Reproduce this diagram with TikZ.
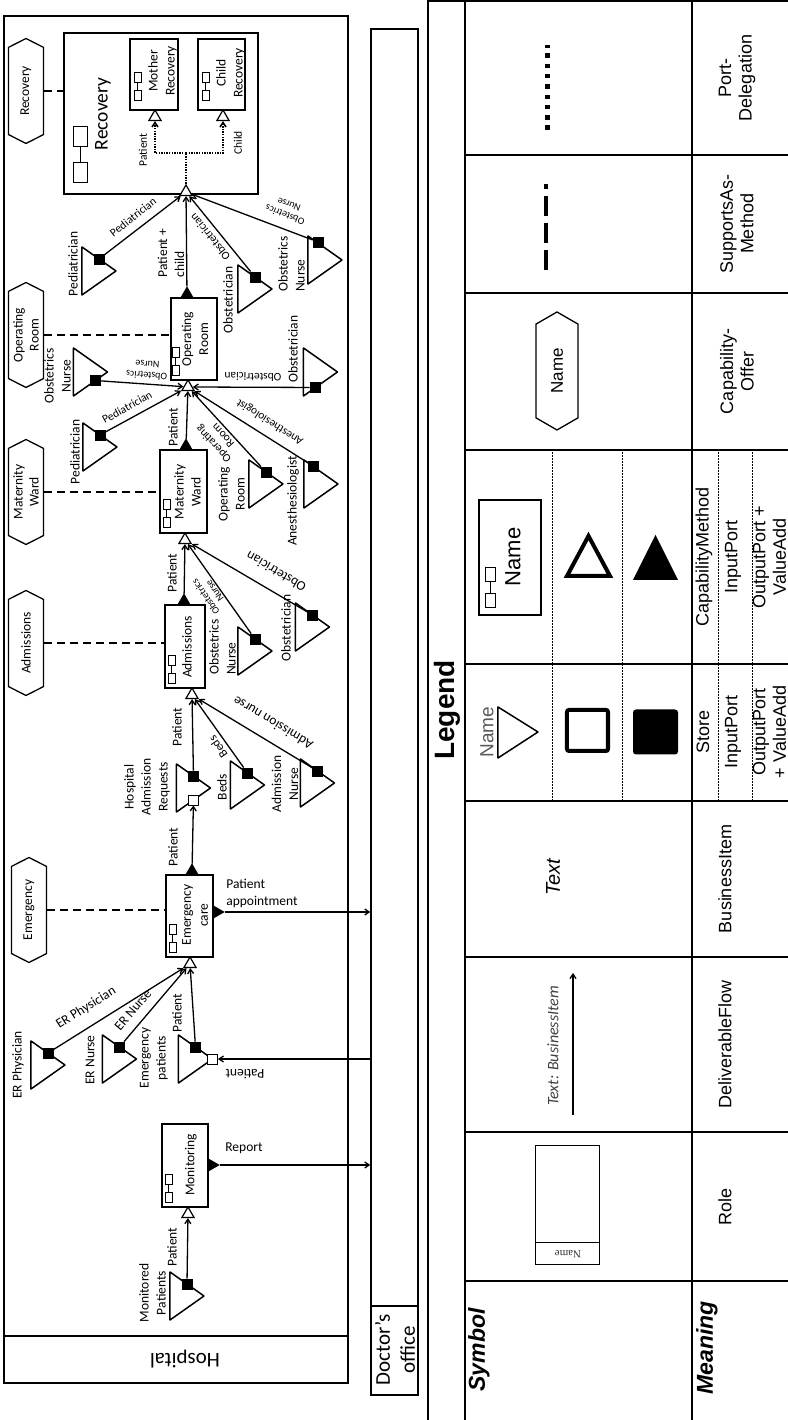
\documentclass[tikz,border=0pt]{standalone}
\usepackage{fontspec}
\setmainfont{Carlito}
\newfontfamily\legendfont{Liberation Sans}
\newfontfamily\rolefont{Liberation Serif}
\usetikzlibrary{arrows.meta,shapes.geometric,shapes.symbols}

\tikzset{
  txt/.style={font=\fontsize{13.5}{17}\selectfont, align=center, inner sep=0pt},
  lab/.style={font=\fontsize{11.5}{13}\selectfont, align=center, inner sep=0pt},
  smalllab/.style={font=\fontsize{10}{11}\selectfont, align=center, inner sep=0pt},
  leg/.style={font=\legendfont\fontsize{18}{20.5}\selectfont, align=center, inner sep=0pt},
  method/.style={draw, line width=1.6pt, inner sep=0pt},
  offer/.style={draw, line width=1.3pt, signal, signal to=east and west,
    signal pointer angle=126, minimum width=105pt, minimum height=35pt,
    inner sep=0pt, align=center, font=\fontsize{13.5}{16}\selectfont},
  inport/.style={draw, fill=white, line width=1.2pt, regular polygon,
    regular polygon sides=3, shape border rotate=-90, minimum size=14pt, inner sep=0pt},
  outport/.style={inport, fill=black},
  downport/.style={outport, shape border rotate=180},
  sqout/.style={draw, fill=black, line width=0.8pt, minimum size=10pt, inner sep=0pt},
  sqin/.style={sqout, fill=white},
  flow/.style={line width=1.3pt, -{Straight Barb[length=4.5pt,width=6pt]}},
  deleg/.style={line width=1.6pt, dash pattern=on 1.4pt off 1.2pt},
  supports/.style={line width=1.5pt, dash pattern=on 8pt off 5pt},
  store/.pic={\draw[line width=1.5pt, line join=round] (-24,17) -- (24,17) -- (0,-17) -- cycle;},
  methodicon/.pic={\draw[line width=0.9pt] (0,0) rectangle (10,7) (18,0) rectangle (28,7) (10,3.5) -- (18,3.5);}
}

\begin{document}
\begin{tikzpicture}[x=1pt, y=1pt, rotate=90, transform shape]
    \useasboundingbox (0,0) rectangle (1420,787);

    % pools
    \draw[line width=1.3pt] (37,439) rectangle (1404,783);
    \draw[line width=1.3pt] (84,439) -- (84,783);
    \node[font=\fontsize{21}{24}\selectfont, rotate=90] (hospital) at (61,602) {Hospital};
    \node[draw, line width=1.3pt, minimum width=1366pt, minimum height=47pt, inner sep=0pt] (office) at (708,392.5) {};
    \draw[line width=1.3pt] (114,369) -- (114,416);
    \node[font=\fontsize{21}{25}\selectfont, align=center, inner sep=0pt] (officeLab) at (70,392) {Doctor’s\\office};

    % capability offers
    \node[offer] (emOffer) at (510,758) {Emergency};
    \node[offer] (admOffer) at (777,761) {Admissions};
    \node[offer] (mwOffer) at (928,761) {Maternity\\Ward};
    \node[offer] (orOffer) at (1085,761) {Operating\\Room};
    \node[offer] (recOffer) at (1329,761) {Recovery};

    % capability methods
    \node[method, minimum width=83pt, minimum height=46pt] (monBox) at (254.5,602) {};
    \node[method, minimum width=82pt, minimum height=47pt] (emBox) at (504,597.5) {};
    \node[method, minimum width=83pt, minimum height=40pt] (admBox) at (773.5,602) {};
    \node[method, minimum width=83pt, minimum height=47pt] (mwBox) at (928.5,603.5) {};
    \node[method, minimum width=82pt, minimum height=46pt] (orBox) at (1081,593) {};
    \node[method, minimum width=161pt, minimum height=194pt] (recBox) at (1306.5,626) {};
    \node[method, minimum width=71pt, minimum height=48pt] (motherBox) at (1345.5,633) {};
    \node[method, minimum width=71pt, minimum height=47pt] (childBox) at (1345.5,565.5) {};

    \node[txt] (monTxt) at (255,596) {Monitoring};
    \node[txt] (emTxt) at (505,592) {Emergency\\care};
    \node[txt] (admTxt) at (773,600) {Admissions};
    \node[txt] (mwTxt) at (928,599.5) {Maternity\\Ward};
    \node[txt] (orTxt) at (1081,592) {Operating\\Room};
    \node[txt] (motherTxt) at (1349,624.5) {Mother\\Recovery};
    \node[txt] (childTxt) at (1347,556.5) {Child\\Recovery};
    \node[txt, font=\fontsize{19.5}{22}\selectfont] (recTxt) at (1306,684) {Recovery};

    \foreach \x/\y in {218/615, 468/611, 737/612, 893/617, 1045/608, 1320/646, 1320/578}
        \pic at (\x,\y) {methodicon};
    \pic[scale=2] at (1238,700) {methodicon};

    \foreach \o/\m in {emOffer/emBox, admOffer/admBox, mwOffer/mwBox, orOffer/orBox, recOffer/recBox}
        \draw[supports] (\o.south) -- (\o.south |- \m.north);

    % ports
    \node[inport] (monIn) at (206,599) {};
    \node[inport] (emIn) at (456,597) {};
    \node[inport] (admIn) at (725,595) {};
    \node[inport] (mwIn) at (880,602) {};
    \node[inport] (orIn) at (1033,599) {};
    \node[inport] (recIn) at (1228,601) {};
    \node[inport] (motherIn) at (1303,632) {};
    \node[inport] (childIn) at (1303,564) {};
    \node[outport] (emOut) at (548.5,595) {};
    \node[outport] (admOut) at (818.5,603) {};
    \node[outport] (mwOut) at (973.5,601) {};
    \node[outport] (orOut) at (1125.5,600) {};
    \node[downport] (emAppt) at (508,570.5) {};
    \node[downport] (monRep) at (255,575.5) {};

    % stores
    \foreach \x/\y in {124/600, 355/739, 361/667.5, 361/591.5, 632/593.5, 635/539.5, 637/469.5,
                       769/532, 793/474.5, 936/521, 936/466, 973/687, 1048/696.5, 1048/466.5,
                       1149/688, 1131/532, 1160/462}
        \pic at (\x,\y) {store};

    \node[txt] (monPatLab) at (127,634.5) {Monitored\\Patients};
    \node[txt] (erPhysLab) at (355,769) {ER Physician};
    \node[txt] (erNurseLab) at (360,697) {ER Nurse};
    \node[txt] (emPatLab) at (362,633) {Emergency\\patients};
    \node[txt] (harLab) at (633,640) {Hospital\\Admission\\Requests};
    \node[txt] (bedsLab) at (633,565) {Beds};
    \node[txt] (admNurseLab) at (636,502) {Admission\\Nurse};
    \node[txt, align=left, anchor=west] (admObsNurseLab) at (745,564.5) {Obstetrics\\Nurse};
    \node[txt] (admObstLab) at (792,501) {Obstetrician};
    \node[txt] (orRoomLab) at (926,555.5) {Operating\\Room};
    \node[txt] (anesLab) at (919,494) {Anesthesiologist};
    \node[txt] (pedOrLab) at (968,712) {Pediatrician};
    \node[txt] (orNurseLab) at (1044,729.5) {Obstetrics\\Nurse};
    \node[txt] (orObstLab) at (1071,494) {Obstetrician};
    \node[txt] (pedRecLab) at (1156,714) {Pediatrician};
    \node[txt] (recObstLab) at (1120,559) {Obstetrician};
    \node[txt, align=left, anchor=west] (recNurseLab) at (1128,495.5) {Obstetrics\\Nurse};

    \node[sqout] (monPatOut) at (136,600) {};
    \node[sqout] (erPhysOut) at (367,739) {};
    \node[sqout] (erNurseOut) at (373,667.5) {};
    \node[sqout] (emPatOut) at (373,591.5) {};
    \node[sqin] (emPatIn) at (361,574.5) {};
    \node[sqout] (harOut) at (644,593.5) {};
    \node[sqin] (harIn) at (620,593.5) {};
    \node[sqout] (bedsOut) at (647,539.5) {};
    \node[sqout] (admNurseOut) at (649,469.5) {};
    \node[sqout] (admObsNurseOut) at (781,532) {};
    \node[sqout] (admObstOut) at (805,474.5) {};
    \node[sqout] (orRoomOut) at (948,521) {};
    \node[sqout] (anesOut) at (954,474) {};
    \node[sqout] (pedOrOut) at (985,687) {};
    \node[sqout] (orNurseOut) at (1039.5,692) {};
    \node[sqout] (orObstOut) at (1032.5,472) {};
    \node[sqout] (pedRecOut) at (1161,688) {};
    \node[sqout] (recObstOut) at (1143,532) {};
    \node[sqout] (recNurseOut) at (1178,469) {};

    % deliverable flows
    \draw[flow] (monPatOut) -- (monIn);
    \draw[flow] (monRep) -- (monRep |- office.north);
    \draw[flow] (erPhysOut) -- (emIn);
    \draw[flow] (erNurseOut) -- (emIn);
    \draw[flow] (emPatOut) -- (emIn);
    \draw[flow] (emPatIn |- office.north) -- (emPatIn);
    \draw[flow] (emAppt) -- (emAppt |- office.north);
    \draw[flow] (emOut) -- (harIn);
    \draw[flow] (harOut) -- (admIn);
    \draw[flow] (bedsOut) -- (admIn);
    \draw[flow] (admNurseOut) -- (admIn);
    \draw[flow] (admOut) -- (mwIn);
    \draw[flow] (admObsNurseOut) -- (mwIn);
    \draw[flow] (admObstOut) -- (mwIn);
    \draw[flow] (mwOut) -- (orIn);
    \draw[flow] (orRoomOut) -- (orIn);
    \draw[flow] (anesOut) -- (orIn);
    \draw[flow] (pedOrOut) -- (orIn);
    \draw[flow] (orNurseOut) -- (orIn);
    \draw[flow] (orObstOut) -- (orIn);
    \draw[flow] (orOut) -- (recIn);
    \draw[flow] (pedRecOut) -- (recIn);
    \draw[flow] (recObstOut) -- (recIn);
    \draw[flow] (recNurseOut) -- (recIn);

    \coordinate (fork) at (1267,601);
    \draw[deleg] (recIn) -- (fork);
    \draw[deleg, -{Straight Barb[length=4.5pt,width=6pt]}] (fork) -- (1267,632) -- (motherIn);
    \draw[deleg, -{Straight Barb[length=4.5pt,width=6pt]}] (fork) -- (1267,564) -- (childIn);

    \node[txt] (lMonPat) at (173,615) {Patient};
    \node[txt, rotate=-90] (lReport) at (272,543) {Report};
    \node[txt, rotate=-58] (lErPhys) at (412,701) {ER Physician};
    \node[txt, rotate=-40] (lErNurse) at (410,654) {ER Nurse};
    \node[txt] (lEmPat) at (407,610) {Patient};
    \node[txt, rotate=90] (lOfficePat) at (346,542) {Patient};
    \node[txt, rotate=-90, align=left] (lAppt) at (527,525) {Patient\\appointment};
    \node[txt] (lEmHar) at (573,614) {Patient};
    \node[txt] (lHarAdm) at (693,610) {Patient};
    \node[lab, font=\fontsize{12}{13}\selectfont, rotate=35] (lBeds) at (673,569) {Beds};
    \node[txt, rotate=59] (lAdmNurse) at (697,514) {Admission nurse};
    \node[txt] (lAdmMw) at (847,615) {Patient};
    \node[smalllab, rotate=35] (lAdmObsNurse) at (826,577) {Obstetrics\\Nurse};
    \node[txt, rotate=59.5] (lAdmObst) at (848,511) {Obstetrician};
    \node[txt] (lMwOr) at (993,614) {Patient};
    \node[lab, rotate=42.5] (lOrRoom) at (980,569) {Operating\\Room};
    \node[lab, rotate=57.7] (lAnes) at (998,517) {Anesthesiologist};
    \node[lab, rotate=-61] (lPedOr) at (1013,660) {Pediatrician};
    \node[smalllab, rotate=86] (lOrNurse) at (1050,640) {Obstetrics\\Nurse};
    \node[lab, rotate=89.5] (lOrObst) at (1043,534) {Obstetrician};
    \node[txt, align=left] (lOrRec) at (1167,616) {Patient +\\child};
    \node[lab, rotate=-52] (lPedRec) at (1203,654) {Pediatrician};
    \node[lab, rotate=39] (lRecObst) at (1183,577) {Obstetrician};
    \node[smalllab, rotate=69] (lRecNurse) at (1210,500) {Obstetrics\\Nurse};
    \node[lab] (lDelPat) at (1270,644) {Patient};
    \node[lab] (lDelChild) at (1277,549) {Child};

    % legend
    \draw[line width=1.3pt] (-5,359) -- (1419,359) -- (1419,-5);
    \draw[line width=1.3pt] (-5,322) -- (1419,322);
    \draw[line width=1.3pt] (-5,95) -- (1419,95);
    \foreach \x in {139,288,463,619,756,970,1127,1265}
        \draw[line width=1.3pt] (\x,-5) -- (\x,322);
    \foreach \y in {235,165,69,35}
        \draw[line width=0.7pt, dash pattern=on 1.5pt off 1.5pt] (619,\y) -- (756,\y) (756,\y) -- (970,\y);

    \node[font=\legendfont\bfseries\fontsize{28}{30}\selectfont] (legTitle) at (710,340) {Legend};
    \node[anchor=west, font=\legendfont\bfseries\itshape\fontsize{23}{26}\selectfont] (legSymbol) at (25,308) {Symbol};
    \node[anchor=west, font=\legendfont\bfseries\itshape\fontsize{23}{26}\selectfont] (legMeaning) at (22,80) {Meaning};

    \draw[line width=1pt] (155,187) rectangle (274,251);
    \draw[line width=1pt] (177,187) -- (177,251);
    \node[font=\rolefont\fontsize{11}{12}\selectfont, rotate=90, text=black!80] (legRoleName) at (166,219) {Name};

    \coordinate (legFlowA) at (305,214);
    \coordinate (legFlowB) at (447,214);
    \draw[flow] (legFlowA) -- (legFlowB);
    \node[font=\itshape\fontsize{16}{18}\selectfont, text=black!75] (legFlowLab) at (374,234) {Text: BusinessItem};

    \node[font=\legendfont\itshape\fontsize{20}{22}\selectfont] (legText) at (543,234) {Text};

    \node[font=\legendfont\fontsize{19}{20}\selectfont, text=black!65] (legStoreName) at (688,300) {Name};
    \draw[line width=1.5pt, line join=round] (662,289) -- (713,289) -- (688,249) -- cycle;
    \node[draw, line width=4pt, minimum size=41pt, inner sep=0pt, rounded corners=2pt] (legSqIn) at (689.5,199.5) {};
    \node[fill=black, minimum size=45pt, inner sep=0pt, rounded corners=3pt] (legSqOut) at (688,131.5) {};

    \node[method, line width=1.5pt, minimum width=115pt, minimum height=62pt] (legMethod) at (862.5,277) {};
    \pic[scale=1.4] at (813,292) {methodicon};
    \node[font=\legendfont\fontsize{22}{24}\selectfont] (legMethodName) at (863,274) {Name};
    \draw[line width=4pt, line join=miter] (844,220) -- (884,198.5) -- (844,177) -- cycle;
    \fill[line join=round] (840,154) -- (885,131.5) -- (840,109) -- cycle;

    \node[offer, minimum width=118pt, minimum height=42pt, signal pointer angle=120,
          font=\legendfont\fontsize{17}{18}\selectfont] (legOffer) at (1049,230) {Name};
    \draw[line width=4.5pt, dash pattern=on 20pt off 7pt] (1150,241) -- (1236,241);
    \draw[line width=5pt, dash pattern=on 4.5pt off 5.8pt] (1290,239) -- (1375,239);

    \node[leg] (mRole) at (213.5,62) {Role};
    \node[leg] (mFlow) at (375.5,62) {DeliverableFlow};
    \node[leg] (mItem) at (541,62) {BusinessItem};
    \node[leg] (mStore) at (688,84) {Store};
    \node[leg] (mStoreIn) at (688,54) {InputPort};
    \node[leg] (mStoreOut) at (688,17.5) {OutputPort\\+ ValueAdd};
    \node[leg] (mMethod) at (863,83) {CapabilityMethod};
    \node[leg] (mMethodIn) at (863,54) {InputPort};
    \node[leg] (mMethodOut) at (863,17.5) {OutputPort +\\ValueAdd};
    \node[leg] (mOffer) at (1048.5,50) {Capability-\\Offer};
    \node[leg] (mSupports) at (1196,50) {SupportsAs-\\Method};
    \node[leg] (mDeleg) at (1342,50) {Port-\\Delegation};
\end{tikzpicture}
\end{document}
